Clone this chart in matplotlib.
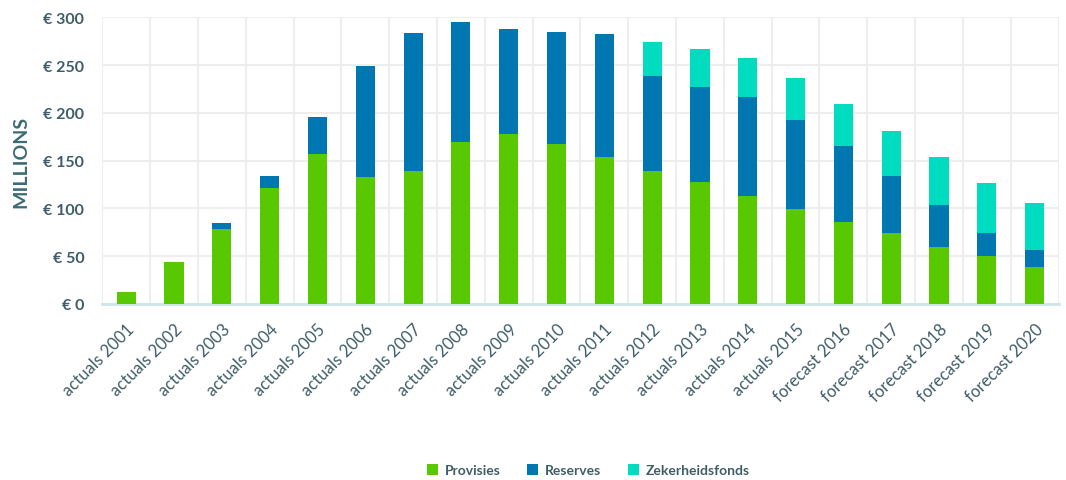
import numpy as np
import matplotlib.pyplot as plt
from matplotlib.ticker import FuncFormatter

plt.rcParams['font.family'] = ['Lato', 'DejaVu Sans']

years = ["actuals 2001", "actuals 2002", "actuals 2003", "actuals 2004", "actuals 2005",
         "actuals 2006", "actuals 2007", "actuals 2008", "actuals 2009", "actuals 2010",
         "actuals 2011", "actuals 2012", "actuals 2013", "actuals 2014", "actuals 2015",
         "forecast 2016", "forecast 2017", "forecast 2018", "forecast 2019", "forecast 2020"]
provisies = [13, 44, 78.5, 121.5, 157, 133, 139, 169, 178, 167.5,
             154, 139, 128, 113, 99, 86, 74, 59.5, 50, 38.5]
reserves = [0, 0, 6, 12, 39, 116, 144.5, 126.5, 110, 117.5,
            128, 100, 99, 104, 94, 79, 59.5, 44, 24, 18]
zekerheidsfonds = [0, 0, 0, 0, 0, 0, 0, 0, 0, 0,
                   0, 35.5, 40, 40, 43, 44, 47, 50.5, 53, 49]

green = "#58c800"
blue = "#0077b0"
teal = "#00dcbf"
text_col = "#3f5d66"

fig, ax = plt.subplots(figsize=(10.66, 4.81), dpi=100)
fig.subplots_adjust(left=0.096, right=0.993, bottom=0.366, top=0.962)

x = np.arange(len(years))
w = 0.4
p = np.array(provisies)
r = np.array(reserves)
z = np.array(zekerheidsfonds)
ax.bar(x, p, w, color=green, label="Provisies", zorder=3)
ax.bar(x, r, w, bottom=p, color=blue, label="Reserves", zorder=3)
ax.bar(x, z, w, bottom=p + r, color=teal, label="Zekerheidsfonds", zorder=3)

ax.set_xlim(-0.5, len(years) - 0.5)
ax.set_ylim(0, 300)
ax.set_yticks(np.arange(0, 301, 50))
ax.yaxis.set_major_formatter(FuncFormatter(lambda v, pos: "€ %d" % v))
ax.set_xticks(x)
ax.set_xticklabels(years, rotation=45, ha="right", rotation_mode="anchor",
                   fontsize=12, color=text_col)
ax.set_xticks(np.arange(-0.5, len(years), 1), minor=True)
ax.tick_params(axis="x", which="both", length=0, pad=12)
ax.tick_params(axis="y", length=0, pad=13, labelsize=11.5, labelcolor=text_col)
for lbl in ax.get_yticklabels():
    lbl.set_fontweight("bold")

ax.grid(axis="y", color="#eeeeee", linewidth=1.5, zorder=0)
ax.grid(axis="x", which="minor", color="#eeeeee", linewidth=1.5, zorder=0)
for s in ["top", "right", "left"]:
    ax.spines[s].set_visible(False)
ax.spines["bottom"].set_color("#cde6ec")
ax.spines["bottom"].set_linewidth(2)

ax.set_ylabel("MILLIONS", fontsize=14, fontweight="bold", color="#3d6b75", labelpad=10)

leg = fig.legend(loc="lower center", bbox_to_anchor=(0.552, -0.018), ncol=3, frameon=False,
                 fontsize=10, handlelength=0.8, handleheight=0.8, columnspacing=1.9,
                 handletextpad=0.5, labelcolor=text_col)
for t in leg.get_texts():
    t.set_fontweight("bold")

fig.savefig("out.png", dpi=100)
